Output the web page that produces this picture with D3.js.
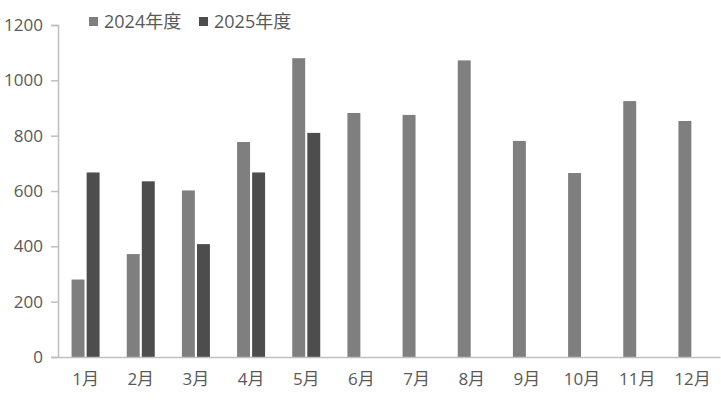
<!DOCTYPE html>
<html><head><meta charset="utf-8">
<script src="https://cdn.jsdelivr.net/npm/d3@7/dist/d3.min.js"></script>
<style>body{margin:0;background:#fff}svg{display:block}text{font-family:"Open Sans","Noto Sans CJK SC",sans-serif}</style>
</head><body><svg id="c" width="721" height="407"></svg>
<script>
const categories = ["1月","2月","3月","4月","5月","6月","7月","8月","9月","10月","11月","12月"];
const seriesNames = ["2024年度","2025年度"];
const values2024 = [280,372,602,777,1080,882,875,1072,781,665,925,853];
const values2025 = [667,635,408,667,810,null,null,null,null,null,null,null];
const yTicks = [0,200,400,600,800,1000,1200];
const colors = ["#7f7f7f","#4d4d4d"];

const svg = d3.select("#c");
const m = {l:58, r:720, t:25, b:357};
const x = d3.scaleBand().domain(categories).range([m.l, m.r]);
const y = d3.scaleLinear().domain([0,1200]).range([m.b, m.t]);
const sub = d3.scaleBand().domain([0,1]).range([0, 28]).paddingInner(0.14);

const series = [values2024, values2025];
series.forEach((vals, si) => {
  svg.append("g").selectAll("rect").data(categories.map((c,i)=>({c,v:vals[i]})).filter(d=>d.v!=null))
    .join("rect")
    .attr("x", d => x(d.c) + x.bandwidth()/2 - 14 + sub(si))
    .attr("width", sub.bandwidth())
    .attr("y", d => y(d.v))
    .attr("height", d => y(0) - y(d.v))
    .attr("fill", colors[si]);
});

const ya = svg.append("g").attr("transform", `translate(${m.l},0)`)
  .call(d3.axisLeft(y).tickValues(yTicks).tickSize(7).tickPadding(8).tickFormat(d3.format("d")));
ya.select(".domain").attr("stroke","#bfbfbf").attr("stroke-width",1.5);
ya.selectAll(".tick line").attr("stroke","#bfbfbf").attr("stroke-width",1.5);
ya.selectAll("text").attr("fill","#595959").style("font-size","17px");

const xa = svg.append("g").attr("transform", `translate(0,${m.b})`)
  .call(d3.axisBottom(x).tickSize(0).tickPadding(16));
xa.select(".domain").attr("stroke","#bfbfbf").attr("stroke-width",1.5);
xa.selectAll("text").attr("fill","#595959").style("font-size","17px");

const lg = svg.append("g");
const lx = [89, 199];
seriesNames.forEach((n,i)=>{
  lg.append("rect").attr("x",lx[i]).attr("y",17).attr("width",9).attr("height",9).attr("fill",colors[i]);
  lg.append("text").attr("x",lx[i]+15).attr("y",28).text(n).attr("fill","#595959").style("font-size","18px");
});
</script></body></html>
